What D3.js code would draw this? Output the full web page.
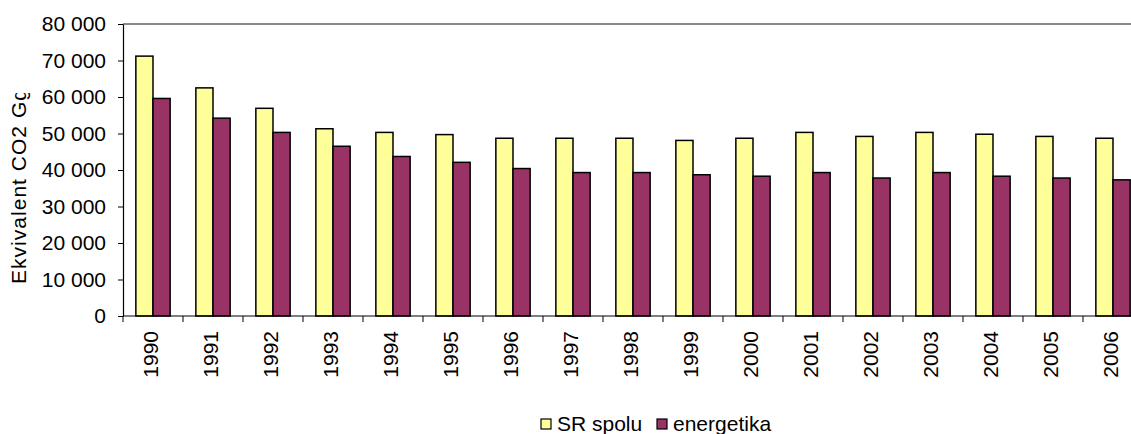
<!DOCTYPE html>
<html>
<head>
<meta charset="utf-8">
<script src="https://cdn.jsdelivr.net/npm/d3@7"></script>
<style>
  body { margin: 0; background: #fff; }
  svg text { font-family: "Liberation Sans", Arial, sans-serif; fill: #000; }
</style>
</head>
<body>
<svg id="chart"></svg>
<script>
const years = ["1990", "1991", "1992", "1993", "1994", "1995", "1996", "1997", "1998",
  "1999", "2000", "2001", "2002", "2003", "2004", "2005", "2006"];
const seriesNames = ["SR spolu", "energetika"];
const srSpolu = [71200, 62500, 56900, 51300, 50300, 49700, 48700, 48700, 48700,
  48100, 48700, 50300, 49200, 50300, 49800, 49200, 48700];
const energetika = [59600, 54200, 50300, 46500, 43700, 42100, 40400, 39300, 39300,
  38700, 38300, 39300, 37800, 39300, 38300, 37800, 37300];
const yTicks = [0, 10000, 20000, 30000, 40000, 50000, 60000, 70000, 80000];
const colors = ["#ffff99", "#993366"];

const chartW = 1131;
const chartH = 434;
const plotLeft = 123;
const plotTop = 24;
const plotBottom = 316;
const bandW = 60;

const svg = d3.select("#chart")
  .attr("width", chartW)
  .attr("height", chartH);

// scales
const x0 = d3.scaleBand()
  .domain(years)
  .range([plotLeft, plotLeft + bandW * years.length]);
const barW = x0.bandwidth() / 3.5;
const x1 = d3.scaleBand()
  .domain(seriesNames)
  .range([barW * 0.75, barW * 2.75]);
const y = d3.scaleLinear()
  .domain([0, 80000])
  .range([plotBottom, plotTop]);

const rows = years.map((yr, i) => ({
  year: yr,
  values: [
    { name: seriesNames[0], v: srSpolu[i] },
    { name: seriesNames[1], v: energetika[i] }
  ]
}));

// top border of plot area
svg.append("line")
  .attr("x1", plotLeft).attr("x2", chartW)
  .attr("y1", plotTop).attr("y2", plotTop)
  .attr("stroke", "#8a8a8a")
  .attr("stroke-width", 2);

// bars
const groups = svg.selectAll("g.year")
  .data(rows)
  .enter()
  .append("g")
  .attr("class", "year")
  .attr("transform", d => `translate(${x0(d.year)},0)`);

groups.selectAll("rect")
  .data(d => d.values)
  .enter()
  .append("rect")
  .attr("x", d => x1(d.name))
  .attr("width", x1.bandwidth())
  .attr("y", d => y(d.v))
  .attr("height", d => plotBottom - y(d.v))
  .attr("fill", (d, i) => colors[i])
  .attr("stroke", "#000")
  .attr("stroke-width", 1.5);

// y axis
const fmt = v => d3.format(",")(v).replace(/,/g, " ");
const yAxis = d3.axisLeft(y)
  .tickValues(yTicks)
  .tickFormat(fmt)
  .tickSizeInner(5)
  .tickSizeOuter(0)
  .tickPadding(12);

const gy = svg.append("g")
  .attr("transform", `translate(${plotLeft},0)`)
  .call(yAxis);
gy.select(".domain").attr("stroke", "#000").attr("stroke-width", 1.2);
gy.selectAll(".tick line").attr("stroke", "#000");
gy.selectAll(".tick text")
  .attr("font-size", 21)
  .style("font-family", "'Liberation Sans', Arial, sans-serif");

// x axis
const gx = svg.append("g")
  .attr("transform", `translate(0,${plotBottom})`);
gx.append("line")
  .attr("x1", plotLeft).attr("x2", chartW)
  .attr("y1", 0).attr("y2", 0)
  .attr("stroke", "#000")
  .attr("stroke-width", 1.2);
gx.selectAll("line.tk")
  .data(years)
  .enter()
  .append("line")
  .attr("class", "tk")
  .attr("x1", d => x0(d)).attr("x2", d => x0(d))
  .attr("y1", 0).attr("y2", 6)
  .attr("stroke", "#000");
gx.selectAll("text")
  .data(years)
  .enter()
  .append("text")
  .attr("transform", d => `translate(${x0(d) + bandW / 2 + 5},15) rotate(-90)`)
  .attr("text-anchor", "end")
  .attr("font-size", 21)
  .text(d => d);

// y axis title, top part cut off as in the source
svg.append("clipPath")
  .attr("id", "titleClip")
  .append("rect")
  .attr("x", 0).attr("y", 93)
  .attr("width", 40).attr("height", 230);
svg.append("g")
  .attr("clip-path", "url(#titleClip)")
  .append("text")
  .attr("transform", "translate(26,284) rotate(-90)")
  .attr("text-anchor", "start")
  .attr("font-size", 21)
  .attr("textLength", 195)
  .text("Ekvivalent CO2 Gg");

// legend
const legend = svg.append("g");
const legendX = [541, 657];
seriesNames.forEach((name, i) => {
  legend.append("rect")
    .attr("x", legendX[i]).attr("y", 419)
    .attr("width", 10).attr("height", 10)
    .attr("fill", colors[i])
    .attr("stroke", "#000")
    .attr("stroke-width", 1.2);
  legend.append("text")
    .attr("x", legendX[i] + 16).attr("y", 431)
    .attr("font-size", 21)
    .text(name);
});
</script>
</body>
</html>
